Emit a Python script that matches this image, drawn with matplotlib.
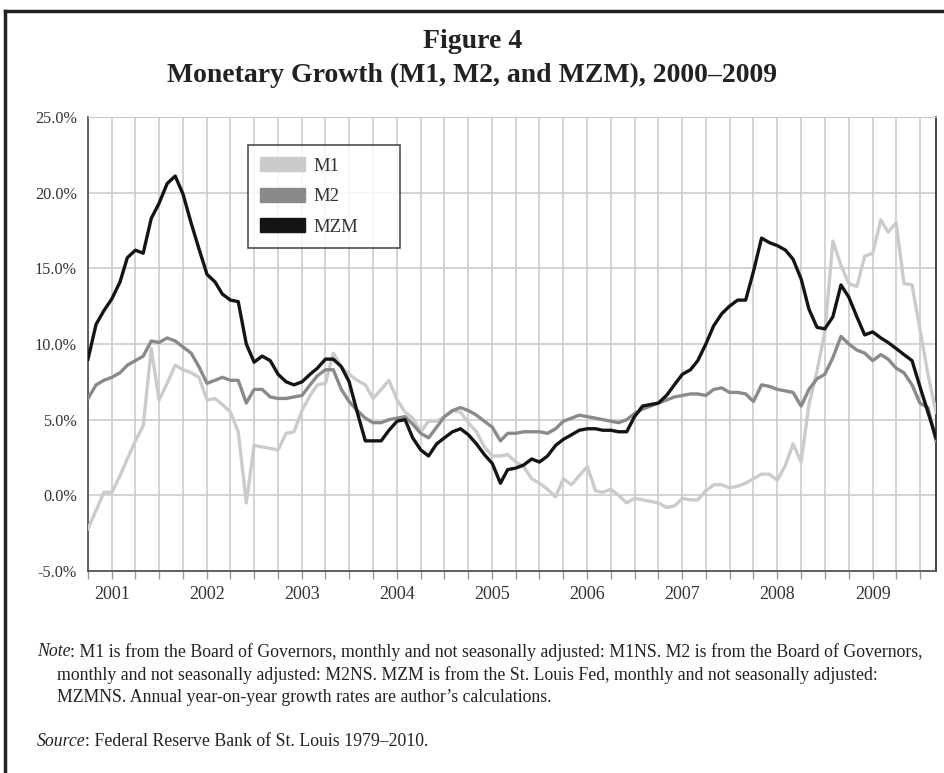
import matplotlib
matplotlib.use("Agg")
import matplotlib.pyplot as plt
import matplotlib.dates as mdates
import matplotlib.patches as mpatches
from matplotlib.lines import Line2D
import pandas as pd

# monthly year-on-year growth, Oct 2000 - Sep 2009
months = pd.date_range("2000-10-01", periods=108, freq="MS")

m1 = [-2.2, -1.0, 0.2, 0.2, 1.3, 2.4, 3.6, 4.6, 9.7, 6.3, 7.4, 8.6,
      8.3, 8.1, 7.8, 6.3, 6.4, 6.0, 5.5, 4.2, -0.5, 3.3, 3.2, 3.1,
      3.0, 4.1, 4.2, 5.6, 6.6, 7.3, 7.4, 9.4, 8.5, 8.0, 7.6, 7.3,
      6.4, 7.0, 7.6, 6.3, 5.5, 5.1, 4.2, 4.9, 4.9, 5.2, 5.6, 5.5,
      4.8, 4.2, 3.2, 2.6, 2.6, 2.7, 2.2, 1.9, 1.1, 0.8, 0.4, -0.1,
      1.1, 0.7, 1.3, 1.9, 0.3, 0.2, 0.4, 0.0, -0.5, -0.2, -0.3, -0.4,
      -0.5, -0.8, -0.7, -0.2, -0.3, -0.3, 0.3, 0.7, 0.7, 0.5, 0.6, 0.8,
      1.1, 1.4, 1.4, 1.0, 2.0, 3.4, 2.2, 6.0, 8.2, 10.8, 16.8, 15.2,
      14.0, 13.8, 15.8, 16.0, 18.2, 17.4, 18.0, 14.0, 13.9, 11.0, 8.0, 5.5]

m2 = [6.4, 7.3, 7.6, 7.8, 8.1, 8.6, 8.9, 9.2, 10.2, 10.1, 10.4, 10.2,
      9.8, 9.4, 8.5, 7.4, 7.6, 7.8, 7.6, 7.6, 6.1, 7.0, 7.0, 6.5,
      6.4, 6.4, 6.5, 6.6, 7.3, 7.9, 8.3, 8.3, 7.0, 6.2, 5.6, 5.1,
      4.8, 4.8, 5.0, 5.1, 5.2, 4.7, 4.1, 3.8, 4.5, 5.2, 5.6, 5.8,
      5.6, 5.3, 4.9, 4.5, 3.6, 4.1, 4.1, 4.2, 4.2, 4.2, 4.1, 4.4,
      4.9, 5.1, 5.3, 5.2, 5.1, 5.0, 4.9, 4.8, 5.0, 5.4, 5.7, 5.9,
      6.1, 6.3, 6.5, 6.6, 6.7, 6.7, 6.6, 7.0, 7.1, 6.8, 6.8, 6.7,
      6.2, 7.3, 7.2, 7.0, 6.9, 6.8, 5.9, 7.0, 7.7, 8.0, 9.1, 10.5,
      10.0, 9.6, 9.4, 8.9, 9.3, 9.0, 8.4, 8.1, 7.3, 6.1, 5.8, 3.6]

mzm = [9.0, 11.3, 12.2, 13.0, 14.1, 15.7, 16.2, 16.0, 18.3, 19.3, 20.6, 21.1,
       19.9, 18.0, 16.3, 14.6, 14.1, 13.3, 12.9, 12.8, 10.0, 8.8, 9.2, 8.9,
       8.0, 7.5, 7.3, 7.5, 8.0, 8.4, 9.0, 9.0, 8.5, 7.5, 5.5, 3.6,
       3.6, 3.6, 4.3, 4.9, 5.0, 3.8, 3.0, 2.6, 3.4, 3.8, 4.2, 4.4,
       4.0, 3.4, 2.7, 2.1, 0.8, 1.7, 1.8, 2.0, 2.4, 2.2, 2.6, 3.3,
       3.7, 4.0, 4.3, 4.4, 4.4, 4.3, 4.3, 4.2, 4.2, 5.2, 5.9, 6.0,
       6.1, 6.6, 7.3, 8.0, 8.3, 8.9, 10.0, 11.2, 12.0, 12.5, 12.9, 12.9,
       14.8, 17.0, 16.7, 16.5, 16.2, 15.6, 14.3, 12.3, 11.1, 11.0, 11.8, 13.9,
       13.1, 11.8, 10.6, 10.8, 10.4, 10.1, 9.7, 9.3, 8.9, 7.2, 5.5, 3.8]

series_names = ["M1", "M2", "MZM"]
series_colors = ["#cbcbcb", "#8a8a8a", "#141414"]
yticks = [-5, 0, 5, 10, 15, 20, 25]

note_rest = (": M1 is from the Board of Governors, monthly and not seasonally adjusted: M1NS. "
             "M2 is from the Board of Governors,")
note_lines = ["monthly and not seasonally adjusted: M2NS. MZM is from the St. Louis Fed, "
              "monthly and not seasonally adjusted:",
              "MZMNS. Annual year-on-year growth rates are author\u2019s calculations."]

serif = "Liberation Serif"

W, H = 945, 773
fig = plt.figure(figsize=(W / 100, H / 100), dpi=100)
fig.patch.set_facecolor("white")

# outer frame (cut off at right and bottom like the scan)
fig.add_artist(Line2D([4.5 / W, 4.5 / W], [0, 1 - 11 / H], color="#222222", lw=2.5))
fig.add_artist(Line2D([4.5 / W, 1], [1 - 11 / H, 1 - 11 / H], color="#222222", lw=2.5))

fig.text(0.5, 1 - 42 / H, "Figure 4", ha="center", va="center",
         fontsize=20, fontweight="bold", family=serif, color="#222222")
fig.text(0.5, 1 - 75 / H, "Monetary Growth (M1, M2, and MZM), 2000\u20132009", ha="center",
         va="center", fontsize=20, fontweight="bold", family=serif, color="#222222")

ax = fig.add_axes([88 / W, 1 - 571 / H, (936 - 88) / W, (571 - 117) / H])
for vals, name, col in zip([m1, m2, mzm], series_names, series_colors):
    ax.plot(months, vals, color=col, lw=2.4, label=name, solid_joinstyle="round", zorder=3)

ax.set_xlim(months[0], months[-1])
ax.set_ylim(-5, 25)
ax.set_yticks(yticks)
ax.set_yticklabels([f"{v:.1f}%" for v in yticks], family=serif, fontsize=11.7, color="#333333")

ax.xaxis.set_major_locator(mdates.MonthLocator(bymonth=[1]))
ax.xaxis.set_major_formatter(mdates.DateFormatter("%Y"))
ax.xaxis.set_minor_locator(mdates.MonthLocator(bymonth=[1, 4, 7, 10]))
for lab in ax.get_xticklabels():
    lab.set_family(serif)
    lab.set_fontsize(13)
    lab.set_color("#333333")
ax.tick_params(axis="x", which="both", length=6, width=1, color="#999999", pad=5)
ax.tick_params(axis="y", length=0, pad=8)

ax.grid(True, which="both", axis="x", color="#d2caca", lw=1.2, zorder=0)
ax.grid(True, which="major", axis="y", color="#d2caca", lw=1.2, zorder=0)
ax.spines["top"].set_color("#d2caca")
ax.spines["left"].set_color("#555555")
ax.spines["bottom"].set_color("#555555")
ax.spines["right"].set_color("#333333")
for s in ["left", "bottom", "right"]:
    ax.spines[s].set_linewidth(1.3)

handles = [mpatches.Patch(color=c, label=n) for n, c in zip(series_names, series_colors)]
leg = ax.legend(handles=handles, loc="upper left", bbox_to_anchor=(0.189, 0.5, 0.179, 0.438),
                mode="expand", prop={"family": serif, "size": 13.5}, frameon=True,
                fancybox=False, edgecolor="#222222", handlelength=2.35, handleheight=0.75,
                borderpad=0.65, labelspacing=0.7, handletextpad=0.45, borderaxespad=0)
leg.get_frame().set_linewidth(1.2)
for t in leg.get_texts():
    t.set_color("#333333")

# note and source
fs = 12.8
ty = 1 - 652 / H
t_note = fig.text(37 / W, ty, "Note", style="italic", family=serif, fontsize=fs,
                  va="center", color="#222222")
fig.canvas.draw()
r = fig.canvas.get_renderer()
x_after = t_note.get_window_extent(r).x1 / W
fig.text(x_after, ty, note_rest, family=serif, fontsize=fs, va="center", color="#222222")
fig.text(57 / W, 1 - 675 / H, note_lines[0], family=serif, fontsize=fs, va="center", color="#222222")
fig.text(57 / W, 1 - 697 / H, note_lines[1], family=serif, fontsize=fs, va="center", color="#222222")

t_src = fig.text(37 / W, 1 - 741 / H, "Source", style="italic", family=serif, fontsize=fs,
                 va="center", color="#222222")
fig.canvas.draw()
x_after = (t_src.get_window_extent(r).x1 - 1) / W
fig.text(x_after, 1 - 741 / H, ": Federal Reserve Bank of St. Louis 1979\u20132010.",
         family=serif, fontsize=fs, va="center", color="#222222")

fig.savefig("out.png", dpi=100, facecolor="white")
